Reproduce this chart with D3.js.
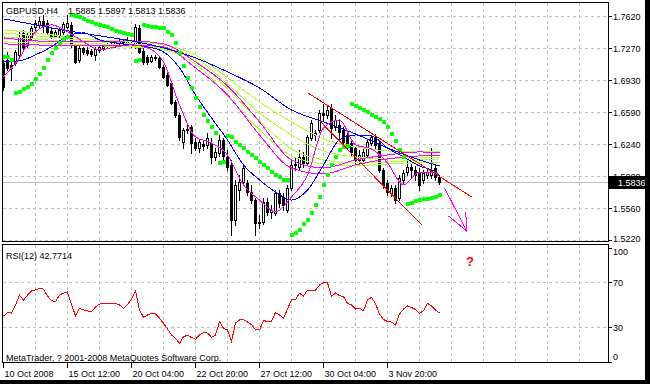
<!DOCTYPE html>
<html>
<head>
<meta charset="utf-8">
<script src="https://cdn.jsdelivr.net/npm/d3@7"></script>
<style>
  body { margin: 0; background: #fff; }
  svg { display: block; font-family: "Liberation Sans", Arial, sans-serif; font-size: 9px; }
</style>
</head>
<body>
<svg id="chart" width="650" height="384"></svg>
<script>
// GBPUSD H4 candles, one value per bar
const opens = [
  1.7113,1.7145,1.7091,1.7113,1.7199,1.7434,1.7306,1.7392,1.7499,1.7520,
  1.7563,1.7542,1.7456,1.7402,1.7413,1.7445,1.7499,1.7520,1.7305,1.7145,
  1.7274,1.7252,1.7241,1.7199,1.7252,1.7274,1.7295,1.7317,1.7306,1.7327,
  1.7338,1.7327,1.7306,1.7295,1.7488,1.7241,1.7177,1.7134,1.7166,1.7166,
  1.7070,1.6984,1.6899,1.6695,1.6555,1.6265,1.6394,1.6426,1.6265,1.6201,
  1.6244,1.6233,1.6255,1.6104,1.6147,1.6287,1.6104,1.6018,1.5429,1.5750,
  1.5836,1.5826,1.5729,1.5643,1.5397,1.5407,1.5622,1.5514,1.5504,1.5718,
  1.5675,1.5536,1.5772,1.6018,1.5997,1.6104,1.6040,1.6308,1.6340,1.6394,
  1.6576,1.6555,1.6630,1.6426,1.6447,1.6394,1.6340,1.6255,1.6201,1.6072,
  1.6072,1.6126,1.6255,1.6319,1.6255,1.5965,1.5826,1.5718,1.5772,1.5665,
  1.5858,1.5944,1.5997,1.5965,1.5944,1.5858,1.5911,1.5911,1.5986,1.5885];
const highs = [
  1.7145,1.7231,1.7145,1.7252,1.7445,1.7466,1.7445,1.7509,1.7574,1.7606,
  1.7627,1.7574,1.7488,1.7466,1.7499,1.7552,1.7627,1.7552,1.7316,1.7295,
  1.7284,1.7284,1.7263,1.7284,1.7306,1.7317,1.7338,1.7349,1.7359,1.7381,
  1.7370,1.7392,1.7359,1.7531,1.7520,1.7274,1.7199,1.7199,1.7199,1.7188,
  1.7091,1.7006,1.6910,1.6716,1.6576,1.6415,1.6447,1.6447,1.6308,1.6287,
  1.6287,1.6362,1.6308,1.6201,1.6340,1.6308,1.6179,1.6072,1.5858,1.5911,
  1.6018,1.5858,1.5804,1.5665,1.5482,1.5665,1.5665,1.5590,1.5750,1.5750,
  1.5718,1.5804,1.6072,1.6093,1.6179,1.6158,1.6340,1.6501,1.6394,1.6608,
  1.6673,1.6662,1.6673,1.6555,1.6501,1.6426,1.6372,1.6287,1.6222,1.6179,
  1.6201,1.6287,1.6340,1.6351,1.6287,1.5986,1.5858,1.5804,1.5804,1.5911,
  1.5965,1.6072,1.6029,1.6008,1.5986,1.5965,1.5986,1.6201,1.6018,1.5897];
const lows = [
  1.6823,1.7037,1.6930,1.7091,1.7177,1.7252,1.7284,1.7370,1.7466,1.7499,
  1.7434,1.7424,1.7381,1.7392,1.7392,1.7424,1.7488,1.7284,1.7113,1.7123,
  1.7209,1.7199,1.7188,1.7145,1.7231,1.7252,1.7274,1.7284,1.7284,1.7306,
  1.7295,1.7306,1.7284,1.7274,1.7220,1.7102,1.7102,1.7123,1.7145,1.7059,
  1.6952,1.6866,1.6673,1.6533,1.6287,1.6201,1.6362,1.6147,1.6179,1.6158,
  1.6179,1.6201,1.6040,1.6072,1.6115,1.6072,1.5965,1.5268,1.5375,1.5643,
  1.5804,1.5697,1.5611,1.5268,1.5343,1.5386,1.5482,1.5450,1.5482,1.5568,
  1.5536,1.5514,1.5750,1.5965,1.5965,1.5997,1.6018,1.6287,1.6287,1.6372,
  1.6501,1.6522,1.6308,1.6394,1.6287,1.6244,1.6201,1.6126,1.6040,1.6040,
  1.6051,1.6104,1.6233,1.6201,1.5944,1.5772,1.5697,1.5686,1.5611,1.5643,
  1.5826,1.5911,1.5879,1.5858,1.5750,1.5826,1.5879,1.5879,1.5858,1.5813];
const closes = [
  1.6855,1.7059,1.7059,1.7231,1.7392,1.7284,1.7413,1.7488,1.7542,1.7563,
  1.7520,1.7445,1.7402,1.7445,1.7466,1.7531,1.7542,1.7305,1.7123,1.7273,
  1.7231,1.7220,1.7209,1.7263,1.7284,1.7295,1.7317,1.7306,1.7338,1.7349,
  1.7327,1.7359,1.7327,1.7499,1.7231,1.7123,1.7123,1.7177,1.7177,1.7070,
  1.6963,1.6877,1.6684,1.6555,1.6319,1.6394,1.6405,1.6255,1.6201,1.6265,
  1.6222,1.6308,1.6104,1.6158,1.6287,1.6115,1.5997,1.5429,1.5804,1.5836,
  1.5986,1.5729,1.5643,1.5397,1.5407,1.5622,1.5514,1.5536,1.5718,1.5611,
  1.5590,1.5772,1.6018,1.6025,1.6104,1.6040,1.6319,1.6469,1.6362,1.6576,
  1.6555,1.6608,1.6415,1.6501,1.6372,1.6265,1.6233,1.6158,1.6072,1.6126,
  1.6158,1.6265,1.6319,1.6233,1.5965,1.5804,1.5729,1.5772,1.5643,1.5879,
  1.5933,1.5997,1.5965,1.5911,1.5804,1.5933,1.5944,1.5965,1.5890,1.5836];

// Parabolic SAR, one value per bar
const sar = [
  1.7177,1.7177,1.7145,1.6791,1.6801,1.6834,1.6855,1.6887,1.6941,1.6994,
  1.7059,1.7145,1.7220,1.7273,1.7327,1.7370,1.7391,1.7627,1.7620,1.7602,
  1.7581,1.7563,1.7549,1.7531,1.7520,1.7509,1.7495,1.7477,1.7456,1.7442,
  1.7431,1.7427,1.7413,1.7134,1.7145,1.7520,1.7509,1.7502,1.7495,1.7491,
  1.7485,1.7442,1.7413,1.7324,1.7223,1.7080,1.6955,1.6841,1.6734,1.6637,
  1.6555,1.6494,1.6429,1.6365,1.6040,1.6051,1.6330,1.6319,1.6268,1.6233,
  1.6198,1.6161,1.6126,1.6090,1.6054,1.6019,1.5983,1.5947,1.5911,1.5893,
  1.5858,1.5858,1.5268,1.5286,1.5321,1.5383,1.5429,1.5501,1.5590,1.5679,
  1.5804,1.5911,1.6019,1.6104,1.6179,1.6212,1.6222,1.6673,1.6651,1.6630,
  1.6608,1.6587,1.6555,1.6533,1.6512,1.6480,1.6426,1.6351,1.6276,1.6179,
  1.6104,1.5600,1.5614,1.5629,1.5643,1.5651,1.5657,1.5665,1.5679,1.5700];

// moving averages read at every 8th bar (slow) and every 4th bar (fast)
const slowBars = [0, 8, 16, 24, 32, 40, 48, 56, 64, 72, 80, 88, 96, 104, 109];
const blueSlow = [1.7584,1.7520,1.7456,1.7402,1.7348,1.7273,1.7166,1.7016,1.6844,1.6608,1.6480,1.6351,1.6201,1.6072,1.6008];
const lime1 = [1.7466,1.7434,1.7391,1.7359,1.7338,1.7305,1.7198,1.6952,1.6694,1.6480,1.6297,1.6212,1.6169,1.6158,1.6158];
const lime2 = [1.7434,1.7402,1.7370,1.7338,1.7316,1.7273,1.7166,1.6887,1.6576,1.6340,1.6169,1.6104,1.6083,1.6094,1.6104];
const lime3 = [1.7391,1.7370,1.7338,1.7316,1.7295,1.7263,1.7134,1.6834,1.6490,1.6190,1.6072,1.6040,1.6051,1.6072,1.6083];
const lime4 = [1.7338,1.7327,1.7316,1.7295,1.7284,1.7252,1.7102,1.6758,1.6394,1.6115,1.6029,1.6008,1.6029,1.6040,1.6040];
const magSlow1 = [1.7380,1.7348,1.7338,1.7338,1.7348,1.7316,1.7123,1.6866,1.6480,1.6072,1.5986,1.6072,1.6126,1.6158,1.6147];
const magSlow2 = [1.7316,1.7305,1.7295,1.7295,1.7305,1.7284,1.7059,1.6769,1.6340,1.5986,1.5922,1.6019,1.6083,1.6115,1.6115];

const fastBars = [0,4,8,12,16,20,24,28,32,36,40,44,48,52,56,60,64,68,72,76,80,84,88,92,96,100,104,108,109];
const blueFast = [1.7123,1.7134,1.7198,1.7284,1.7402,1.7434,1.7359,1.7327,1.7305,1.7284,1.7230,1.7059,1.6769,1.6523,1.6287,
  1.6019,1.5858,1.5729,1.5643,1.5750,1.6019,1.6287,1.6340,1.6330,1.6201,1.6104,1.6008,1.5943,1.5901];
const magFast = [1.6962,1.7166,1.7445,1.7520,1.7445,1.7338,1.7252,1.7284,1.7305,1.7273,1.7123,1.6662,1.6319,1.6254,1.6126,
  1.5804,1.5643,1.5515,1.5675,1.5911,1.6415,1.6501,1.6233,1.6190,1.6040,1.5804,1.5943,1.5933,1.5890];

// RSI(12), one value per bar
const rsi = [
  40.1,43.0,42.7,49.8,58.5,54.2,58.5,62.1,63.0,64.3,
  63.8,57.7,53.7,52.8,58.5,60.3,61.2,50.6,40.1,46.9,
  45.4,44.5,44.0,48.0,50.6,51.1,51.3,51.1,51.3,49.8,
  46.9,50.2,55.0,62.3,45.4,38.9,41.0,42.5,42.0,38.3,
  33.7,28.7,23.4,20.5,15.9,21.9,23.1,21.2,19.6,23.4,
  25.4,25.1,21.4,23.4,35.1,29.3,27.8,17.7,33.9,36.6,
  37.0,34.8,32.6,27.8,27.8,36.1,35.3,35.7,43.2,41.0,
  38.1,46.2,54.2,54.6,60.0,57.7,62.9,62.9,62.9,67.3,
  69.4,69.4,57.2,60.3,58.1,57.1,51.3,49.8,46.2,46.9,
  44.7,54.2,56.5,51.1,41.8,37.0,35.3,34.8,32.2,41.8,
  46.2,48.9,47.6,45.8,42.5,44.7,51.3,48.9,45.4,42.7714];

// drawn objects: [bar, price] pairs
const trendUpper = [[76.2, 1.6791], [117.2, 1.5675]];
const trendLower = [[79.2, 1.6490], [104.7, 1.5375]];
const arrowShaft = [[110.4, 1.5772], [115.9, 1.5311]];
const arrowHead = [[115.7, 1.5515], [115.9, 1.5311], [111.4, 1.5472]];

const priceTicks = [1.7620, 1.7270, 1.6930, 1.6590, 1.6240, 1.5900, 1.5560, 1.5220];
const rsiTicks = [100, 70, 30, 0];
const timeBars = [0, 16, 32, 48, 64, 80, 96];
const timeLabels = ["10 Oct 2008", "15 Oct 12:00", "20 Oct 04:00", "22 Oct 20:00", "27 Oct 12:00", "30 Oct 04:00", "3 Nov 20:00"];
const lastPrice = 1.5836;

const left = 3, right = 608;
const svg = d3.select("#chart");

let x = d3.scaleLinear().domain([0, 151]).range([3, 607]);
let y = d3.scaleLinear().domain([1.5220, 1.7620]).range([239.5, 15.5]);
let yR = d3.scaleLinear().domain([0, 100]).range([361.6, 247.9]);

svg.append("rect").attr("width", 650).attr("height", 384).style("fill", "#fff");

// grid
let grid = svg.append("g").style("stroke", "#c0c0c0").style("stroke-dasharray", "3,3");
d3.range(8, 152, 8).forEach(b => {
  let gx = x(b) + 0.5;
  if (gx > right) return;
  grid.append("line").attr("x1", gx).attr("x2", gx).attr("y1", 3).attr("y2", 241);
  grid.append("line").attr("x1", gx).attr("x2", gx).attr("y1", 245).attr("y2", 362);
});
priceTicks.forEach(p => {
  let gy = Math.round(y(p)) + 0.5;
  grid.append("line").attr("x1", left).attr("x2", right).attr("y1", gy).attr("y2", gy);
});
[70, 30].forEach(v => {
  let gy = Math.round(yR(v)) + 0.5;
  grid.append("line").attr("x1", left).attr("x2", right).attr("y1", gy).attr("y2", gy);
});

// bid line
svg.append("line")
  .attr("x1", left).attr("x2", right)
  .attr("y1", Math.round(y(lastPrice)) + 0.5).attr("y2", Math.round(y(lastPrice)) + 0.5)
  .style("stroke", "#c0c0c0");

// candles
let bars = d3.range(opens.length).map(i => ({ i: i, o: opens[i], h: highs[i], l: lows[i], c: closes[i] }));
let candles = svg.append("g").style("stroke", "#000").style("stroke-width", 1);
candles.selectAll("line").data(bars).join("line")
  .attr("x1", d => x(d.i) + 0.5).attr("x2", d => x(d.i) + 0.5)
  .attr("y1", d => Math.round(y(d.h))).attr("y2", d => Math.round(y(d.l)) + 1);
candles.selectAll("rect").data(bars).join("rect")
  .attr("x", d => x(d.i) - 0.5)
  .attr("y", d => Math.round(y(Math.max(d.o, d.c))) + 0.5)
  .attr("width", 2)
  .attr("height", d => Math.max(0.01, Math.round(y(Math.min(d.o, d.c))) - Math.round(y(Math.max(d.o, d.c)))))
  .style("fill", d => d.c >= d.o ? "#fff" : "#000");

// moving averages
let maLine = d3.line().x(d => x(d[0]) + 0.5).y(d => y(d[1])).curve(d3.curveMonotoneX);
let maSeries = [
  { bars: slowBars, vals: lime1, color: "#adff2f" },
  { bars: slowBars, vals: lime2, color: "#adff2f" },
  { bars: slowBars, vals: lime3, color: "#adff2f" },
  { bars: slowBars, vals: lime4, color: "#adff2f" },
  { bars: slowBars, vals: magSlow1, color: "#ff00ff" },
  { bars: slowBars, vals: magSlow2, color: "#ff00ff" },
  { bars: slowBars, vals: blueSlow, color: "#0000ff" },
  { bars: fastBars, vals: blueFast, color: "#0000ff" },
  { bars: fastBars, vals: magFast, color: "#ff00ff" }
];
maSeries.forEach(s => {
  svg.append("path")
    .datum(s.bars.map((b, k) => [b, s.vals[k]]))
    .attr("d", maLine)
    .attr("shape-rendering", "crispEdges")
    .style("fill", "none")
    .style("stroke", s.color)
    .style("stroke-width", 1);
});

// parabolic SAR
svg.append("g").selectAll("rect").data(sar).join("rect")
  .attr("x", (d, i) => x(i) - 1)
  .attr("y", d => Math.round(y(d)) - 2)
  .attr("width", 4).attr("height", 4).attr("rx", 0.8)
  .style("fill", "#00ff00");

// trend lines and arrow
let objLine = d3.line().x(d => x(d[0])).y(d => y(d[1]));
[trendUpper, trendLower].forEach(t => {
  svg.append("path").attr("d", objLine(t)).attr("shape-rendering", "crispEdges")
    .style("fill", "none").style("stroke", "#ff0000").style("stroke-width", 1);
});
[arrowShaft, arrowHead].forEach(t => {
  svg.append("path").attr("d", objLine(t)).attr("shape-rendering", "crispEdges")
    .style("fill", "none").style("stroke", "#ff00ff").style("stroke-width", 1);
});

// RSI
svg.append("path")
  .datum(rsi)
  .attr("d", d3.line().x((d, i) => x(i) + 0.5).y(d => yR(d)))
  .attr("shape-rendering", "crispEdges")
  .style("fill", "none").style("stroke", "#ff0000").style("stroke-width", 1);

svg.append("text").attr("x", 466).attr("y", 266)
  .style("fill", "#ff0000").style("font-weight", "bold").style("font-size", "13px")
  .text("?");

// panel borders
svg.append("rect").attr("x", 2.5).attr("y", 2.5).attr("width", 606).attr("height", 239)
  .style("fill", "none").style("stroke", "#000");
svg.append("rect").attr("x", 2.5).attr("y", 244.5).attr("width", 606).attr("height", 118)
  .style("fill", "none").style("stroke", "#000");

// right price axis
let axisG = svg.append("g");
priceTicks.forEach(p => {
  let gy = Math.round(y(p)) + 0.5;
  axisG.append("line").attr("x1", 608).attr("x2", 612).attr("y1", gy).attr("y2", gy).style("stroke", "#000");
  axisG.append("text").attr("x", 613).attr("y", Math.min(gy + 3.5, 241.5)).style("fill", "#000").text(p.toFixed(4));
});
rsiTicks.forEach(v => {
  let gy = Math.round(yR(v)) + 0.5;
  axisG.append("line").attr("x1", 608).attr("x2", 612).attr("y1", gy).attr("y2", gy).style("stroke", "#000");
  axisG.append("text").attr("x", 613).attr("y", Math.min(Math.max(gy + 3.5, 255), 360)).style("fill", "#000").text(v);
});

// bid label
let bidY = Math.round(y(lastPrice));
svg.append("rect").attr("x", 609).attr("y", bidY - 6).attr("width", 41).attr("height", 13).style("fill", "#000");
svg.append("text").attr("x", 618).attr("y", bidY + 3.5).style("fill", "#fff").text(lastPrice.toFixed(4));

// time axis
timeBars.forEach((b, k) => {
  let tx = x(b) + 0.5;
  svg.append("line").attr("x1", tx).attr("x2", tx).attr("y1", 363).attr("y2", 368).style("stroke", "#000");
  svg.append("text").attr("x", tx + 1).attr("y", 376.5).style("fill", "#000").text(timeLabels[k]);
});

// captions
svg.append("text").attr("x", 6).attr("y", 13.5).text("GBPUSD,H4");
svg.append("text").attr("x", 68).attr("y", 13.5)
  .text([opens[109], highs[109], lows[109], closes[109]].map(v => v.toFixed(4)).join(" "));
svg.append("text").attr("x", 6).attr("y", 258.5).text("RSI(12) " + rsi[rsi.length - 1].toFixed(4));
svg.append("text").attr("x", 6).attr("y", 361).text("MetaTrader, ? 2001-2008 MetaQuotes Software Corp.");

// window frame
svg.append("rect").attr("x", 645).attr("y", 0).attr("width", 5).attr("height", 384).style("fill", "#000");
svg.append("rect").attr("x", 0).attr("y", 380).attr("width", 650).attr("height", 4).style("fill", "#000");
</script>
</body>
</html>
